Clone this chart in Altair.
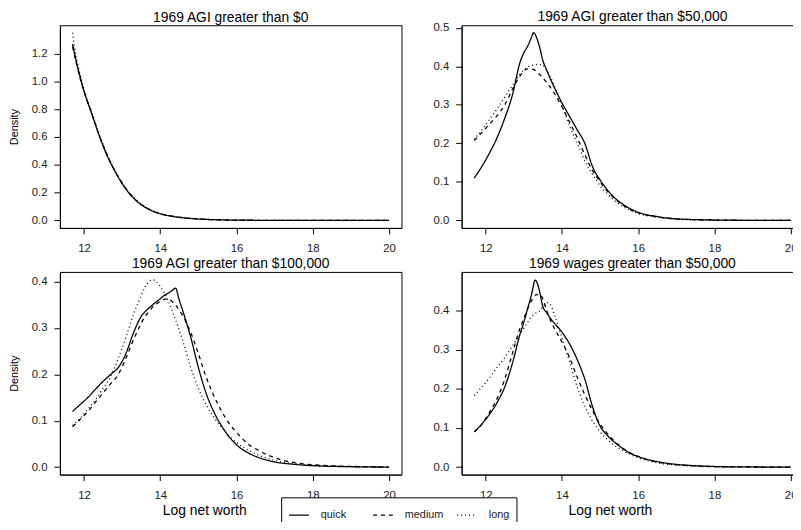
import altair as alt
import pandas as pd

FONT = "Liberation Sans"
SERIES = ["quick", "medium", "long"]
DASHES = [[1, 0], [4, 4], [1, 3]]
TITLES = ["1969 AGI greater than $0", "1969 AGI greater than $50,000",
          "1969 AGI greater than $100,000", "1969 wages greater than $50,000"]
X_TICKS = [12, 14, 16, 18, 20]

# Panel 1: AGI > $0
P1_X = [11.7, 11.8, 11.9, 12.0, 12.2, 12.4, 12.6, 12.8, 13.0, 13.2, 13.4, 13.6, 13.8,
        14.0, 14.3, 14.6, 15.0, 15.5, 16.0, 17.0, 18.0, 19.0, 20.0]
P1_QUICK = [1.27, 1.14, 1.03, 0.93, 0.77, 0.61, 0.47, 0.36, 0.265, 0.19, 0.135, 0.095, 0.067,
            0.048, 0.03, 0.019, 0.01, 0.0045, 0.002, 0.0005, 0.0001, 0.0, 0.0]
P1_MEDIUM = [1.25, 1.13, 1.02, 0.93, 0.77, 0.61, 0.475, 0.36, 0.27, 0.195, 0.137, 0.097, 0.068,
             0.049, 0.031, 0.019, 0.01, 0.0045, 0.002, 0.0005, 0.0001, 0.0, 0.0]
P1_LONG = [1.35, 1.17, 1.05, 0.94, 0.78, 0.62, 0.48, 0.365, 0.27, 0.195, 0.14, 0.1, 0.07,
           0.05, 0.032, 0.02, 0.011, 0.005, 0.002, 0.0005, 0.0001, 0.0, 0.0]
P1_Y_TICKS = [0.0, 0.2, 0.4, 0.6, 0.8, 1.0, 1.2]
P1_Y_DOMAIN = [-0.054, 1.404]

# Panel 2: AGI > $50,000
P2_X = [11.7, 11.9, 12.1, 12.3, 12.5, 12.7, 12.9, 13.0, 13.1, 13.2, 13.25, 13.4, 13.5, 13.6,
        13.8, 14.0, 14.2, 14.4, 14.6, 14.8, 15.0, 15.2, 15.4, 15.6, 15.8, 16.0, 16.5, 17.0,
        17.5, 18.0, 19.0, 20.0]
P2_QUICK = [0.11, 0.14, 0.175, 0.215, 0.265, 0.325, 0.41, 0.435, 0.452, 0.475, 0.487, 0.455,
            0.415, 0.39, 0.345, 0.305, 0.27, 0.235, 0.2, 0.14, 0.105, 0.078, 0.057, 0.042,
            0.03, 0.021, 0.01, 0.004, 0.002, 0.001, 0.0002, 0.0]
P2_MEDIUM = [0.207, 0.228, 0.25, 0.272, 0.3, 0.34, 0.375, 0.388, 0.393, 0.393, 0.392, 0.38,
             0.37, 0.358, 0.33, 0.295, 0.255, 0.215, 0.17, 0.13, 0.1, 0.075, 0.055, 0.04,
             0.028, 0.02, 0.009, 0.004, 0.002, 0.001, 0.0002, 0.0]
P2_LONG = [0.21, 0.235, 0.262, 0.29, 0.32, 0.35, 0.38, 0.39, 0.397, 0.402, 0.403, 0.405,
           0.403, 0.39, 0.35, 0.3, 0.245, 0.2, 0.155, 0.12, 0.09, 0.068, 0.05, 0.036,
           0.026, 0.018, 0.008, 0.003, 0.0015, 0.0005, 0.0, 0.0]
P2_Y_TICKS = [0.0, 0.1, 0.2, 0.3, 0.4, 0.5]
P2_Y_DOMAIN = [-0.0195, 0.5065]

# Panel 3: AGI > $100,000
P3_X = [11.7, 11.9, 12.1, 12.3, 12.5, 12.7, 12.9, 13.1, 13.3, 13.5, 13.6, 13.7, 13.8, 13.9,
        14.0, 14.1, 14.2, 14.3, 14.4, 14.5, 14.6, 14.8, 15.0, 15.2, 15.4, 15.6, 15.8, 16.0,
        16.3, 16.6, 17.0, 17.5, 18.0, 19.0, 20.0]
P3_QUICK = [0.12, 0.135, 0.15, 0.168, 0.185, 0.2, 0.215, 0.245, 0.29, 0.325, 0.335, 0.343,
            0.35, 0.357, 0.363, 0.37, 0.375, 0.38, 0.386, 0.36, 0.335, 0.28, 0.215, 0.16,
            0.12, 0.09, 0.066, 0.048, 0.031, 0.02, 0.011, 0.006, 0.003, 0.0008, 0.0]
P3_MEDIUM = [0.087, 0.103, 0.12, 0.14, 0.16, 0.18, 0.2, 0.235, 0.275, 0.31, 0.325, 0.335,
             0.345, 0.352, 0.358, 0.362, 0.363, 0.358, 0.35, 0.338, 0.325, 0.29, 0.245,
             0.195, 0.155, 0.122, 0.095, 0.075, 0.05, 0.035, 0.02, 0.01, 0.005, 0.0015, 0.0]
P3_LONG = [0.09, 0.105, 0.125, 0.145, 0.17, 0.195, 0.235, 0.28, 0.33, 0.37, 0.388, 0.4,
           0.404, 0.4, 0.39, 0.377, 0.36, 0.34, 0.318, 0.295, 0.27, 0.215, 0.17, 0.135,
           0.108, 0.087, 0.068, 0.053, 0.037, 0.025, 0.014, 0.008, 0.004, 0.001, 0.0]
P3_Y_TICKS = [0.0, 0.1, 0.2, 0.3, 0.4]
P3_Y_DOMAIN = [-0.0162, 0.421]

# Panel 4: wages > $50,000
P4_X = [11.7, 11.9, 12.1, 12.3, 12.5, 12.7, 12.9, 13.0, 13.1, 13.2, 13.3, 13.4, 13.5, 13.6,
        13.7, 13.8, 14.0, 14.2, 14.4, 14.6, 14.8, 15.0, 15.2, 15.4, 15.6, 15.8, 16.0, 16.5,
        17.0, 17.5, 18.0, 19.0, 20.0]
P4_QUICK = [0.09, 0.11, 0.135, 0.165, 0.205, 0.265, 0.34, 0.37, 0.405, 0.44, 0.478, 0.455,
            0.41, 0.395, 0.38, 0.368, 0.345, 0.315, 0.275, 0.225, 0.155, 0.105, 0.08, 0.062,
            0.047, 0.035, 0.027, 0.014, 0.007, 0.0035, 0.0015, 0.0003, 0.0]
P4_MEDIUM = [0.09, 0.11, 0.14, 0.175, 0.225, 0.29, 0.355, 0.38, 0.405, 0.425, 0.44, 0.442,
             0.43, 0.4, 0.375, 0.355, 0.32, 0.28, 0.23, 0.185, 0.145, 0.11, 0.085, 0.064,
             0.048, 0.036, 0.027, 0.013, 0.006, 0.003, 0.0012, 0.0002, 0.0]
P4_LONG = [0.183, 0.205, 0.228, 0.255, 0.28, 0.31, 0.34, 0.355, 0.37, 0.385, 0.393, 0.398,
           0.41, 0.42, 0.415, 0.39, 0.33, 0.27, 0.205, 0.155, 0.118, 0.09, 0.07, 0.054,
           0.042, 0.032, 0.024, 0.011, 0.005, 0.002, 0.001, 0.0002, 0.0]
P4_Y_TICKS = [0.0, 0.1, 0.2, 0.3, 0.4]
P4_Y_DOMAIN = [-0.0192, 0.499]

X_DOMAIN = [11.368, 20.328]
W = 345.5
H = 205
COL_GAP = 60.3
ROW_GAP = 44.5

# invisible anchors that fix the drawing's left / right / bottom bounds, so that the
# padding crops it the way the original figure is cropped (right and bottom cut off)
L_ANCHOR = (-70, 100)
BR_ANCHOR = (380, 300)


def anchor(px, py):
    return alt.Chart(pd.DataFrame({"a": [0]})).mark_rule(strokeOpacity=0, opacity=0).encode(
        x=alt.value(px), x2=alt.value(px + 1), y=alt.value(py), y2=alt.value(py + 1))


def panel(xs, q, m, l, title, ydom, yticks, left, bottom, title_offset=0.5, extra=None):
    rows = []
    for name, arr in zip(SERIES, (q, m, l)):
        for xv, yv in zip(xs, arr):
            rows.append({"x": xv, "y": yv, "series": name})
    df = pd.DataFrame(rows)

    xaxis_kw = dict(values=X_TICKS, format="d", grid=False, tickSize=6, tickColor="black",
                    domainColor="black", labelFont=FONT, labelFontSize=11.5, labelColor="#222",
                    labelPadding=9, labelFlush=False)
    if bottom:
        xaxis = alt.Axis(title="Log net worth", titleFont=FONT, titleFontSize=14,
                         titleFontWeight="normal", titleColor="black",
                         titleX=146 if left else 150, titleY=36, titleBaseline="middle",
                         titleAlign="center", **xaxis_kw)
    else:
        xaxis = alt.Axis(title=None, **xaxis_kw)

    yaxis_kw = dict(values=yticks, format=".1f", grid=False, tickSize=6, tickColor="black",
                    domainColor="black", labelFont=FONT, labelFontSize=11.5, labelColor="#222",
                    labelPadding=7)
    if left:
        yaxis = alt.Axis(title="Density", titleFont=FONT, titleFontSize=11,
                         titleFontWeight="normal", titleColor="black", titleX=-46,
                         titleY=H / 2, titleBaseline="middle", titleAlign="center", **yaxis_kw)
    else:
        yaxis = alt.Axis(title=None, **yaxis_kw)

    lines = alt.Chart(df).mark_line(color="black", strokeWidth=1.3, interpolate="monotone",
                                    clip=True).encode(
        x=alt.X("x:Q", scale=alt.Scale(domain=X_DOMAIN, nice=False, zero=False), axis=xaxis),
        y=alt.Y("y:Q", scale=alt.Scale(domain=ydom, nice=False, zero=False), axis=yaxis),
        strokeDash=alt.StrokeDash(
            "series:N",
            scale=alt.Scale(domain=SERIES, range=DASHES),
            sort=SERIES,
            legend=alt.Legend(title=None, orient="none", legendX=223.8, legendY=477.5,
                              direction="horizontal", columns=3, gridAlign="all",
                              symbolType="stroke", symbolSize=400, symbolStrokeWidth=1.3,
                              symbolStrokeColor="black", labelFont=FONT, labelFontSize=11,
                              labelColor="#222", labelOffset=11, columnPadding=10,
                              padding=7, strokeColor="black", fillColor="white"),
        ),
    )
    ttl = alt.TitleParams(title, font=FONT, fontSize=14, fontWeight="normal", color="black",
                          anchor="middle", offset=title_offset, frame="group")
    layers = [lines] if extra is None else [lines, extra]
    return alt.layer(*layers).properties(width=W, height=H, title=ttl)


p1 = panel(P1_X, P1_QUICK, P1_MEDIUM, P1_LONG, TITLES[0], P1_Y_DOMAIN, P1_Y_TICKS, True, False,
           extra=anchor(*L_ANCHOR))
p2 = panel(P2_X, P2_QUICK, P2_MEDIUM, P2_LONG, TITLES[1], P2_Y_DOMAIN, P2_Y_TICKS, False, False,
           title_offset=-2.25)
p3 = panel(P3_X, P3_QUICK, P3_MEDIUM, P3_LONG, TITLES[2], P3_Y_DOMAIN, P3_Y_TICKS, True, True)
p4 = panel(P4_X, P4_QUICK, P4_MEDIUM, P4_LONG, TITLES[3], P4_Y_DOMAIN, P4_Y_TICKS, False, True,
           extra=anchor(*BR_ANCHOR))

chart = alt.concat(p1, p2, p3, p4, columns=2,
                   spacing={"row": ROW_GAP, "column": COL_GAP}).properties(
    bounds="flush",
    padding={"left": -18.5, "top": -1.5, "right": -46.5, "bottom": -52},
    background="white",
).configure_view(stroke="black", strokeWidth=1)

chart.save("out.html", embed_options={"renderer": "svg", "actions": False})
